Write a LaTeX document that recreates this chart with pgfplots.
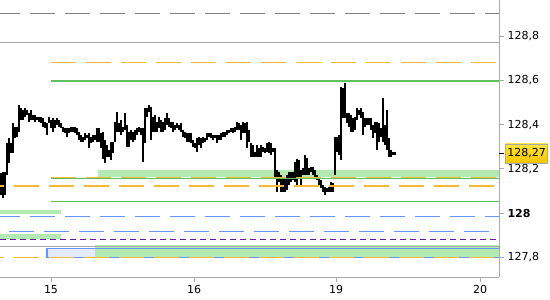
\documentclass[border=0pt]{standalone}
\usepackage{pgfplots}
\pgfplotsset{compat=1.18}
\usepackage{pgfplotstable}
\usepackage{fontspec}
\setmainfont{DejaVu Sans}
\definecolor{axgray}{RGB}{170,170,170}
\definecolor{dgray}{RGB}{128,128,128}
\definecolor{lgreen}{RGB}{178,234,178}
\definecolor{mgreen}{RGB}{92,192,92}
\definecolor{orng}{RGB}{245,185,55}
\definecolor{blu}{RGB}{100,150,255}
\definecolor{purp}{RGB}{110,20,170}
\definecolor{lav}{RGB}{228,234,252}
\definecolor{goldtop}{RGB}{255,228,60}
\definecolor{goldbot}{RGB}{245,196,0}
\pgfplotstableread{
x h l
0 128.180 128.081
1 128.187 128.069
2 128.187 128.081
3 128.315 128.172
4 128.338 128.225
5 128.315 128.270
6 128.406 128.270
7 128.391 128.338
8 128.391 128.345
9 128.489 128.368
10 128.474 128.421
11 128.466 128.421
12 128.474 128.436
13 128.466 128.444
14 128.451 128.413
15 128.466 128.421
16 128.444 128.421
17 128.444 128.413
18 128.436 128.421
19 128.436 128.413
20 128.436 128.406
21 128.428 128.391
22 128.413 128.383
23 128.406 128.353
24 128.436 128.406
25 128.421 128.383
26 128.428 128.368
27 128.421 128.383
28 128.428 128.398
29 128.421 128.391
30 128.406 128.383
31 128.391 128.368
32 128.383 128.361
33 128.383 128.345
34 128.383 128.361
35 128.391 128.368
36 128.391 128.368
37 128.391 128.361
38 128.383 128.353
39 128.368 128.330
40 128.353 128.323
41 128.345 128.323
42 128.361 128.330
43 128.353 128.338
44 128.361 128.293
45 128.345 128.315
46 128.353 128.323
47 128.353 128.330
48 128.383 128.323
49 128.383 128.323
50 128.361 128.293
51 128.368 128.247
52 128.330 128.225
53 128.308 128.255
54 128.285 128.255
55 128.323 128.240
56 128.323 128.270
57 128.413 128.323
58 128.459 128.368
59 128.406 128.368
60 128.421 128.353
61 128.391 128.368
62 128.451 128.376
63 128.398 128.300
64 128.368 128.300
65 128.376 128.330
66 128.368 128.323
67 128.376 128.330
68 128.383 128.353
69 128.391 128.368
70 128.383 128.353
71 128.383 128.232
72 128.474 128.315
73 128.474 128.436
74 128.489 128.459
75 128.481 128.330
76 128.436 128.368
77 128.444 128.368
78 128.413 128.368
79 128.436 128.383
80 128.421 128.368
81 128.413 128.368
82 128.428 128.376
83 128.451 128.398
84 128.428 128.391
85 128.413 128.383
86 128.413 128.368
87 128.398 128.376
88 128.406 128.383
89 128.398 128.376
90 128.406 128.368
91 128.376 128.345
92 128.368 128.338
93 128.361 128.323
94 128.361 128.323
95 128.361 128.315
96 128.330 128.300
97 128.315 128.293
98 128.338 128.278
99 128.345 128.308
100 128.338 128.293
101 128.345 128.315
102 128.338 128.323
103 128.361 128.330
104 128.361 128.345
105 128.361 128.338
106 128.353 128.330
107 128.353 128.338
108 128.353 128.315
109 128.353 128.330
110 128.361 128.330
111 128.368 128.345
112 128.368 128.345
113 128.376 128.353
114 128.376 128.361
115 128.383 128.368
116 128.383 128.361
117 128.391 128.368
118 128.413 128.376
119 128.406 128.376
120 128.398 128.330
121 128.413 128.361
122 128.406 128.361
123 128.413 128.293
124 128.376 128.323
125 128.315 128.255
126 128.308 128.255
127 128.278 128.255
128 128.308 128.255
129 128.293 128.255
130 128.308 128.255
131 128.300 128.278
132 128.293 128.270
133 128.315 128.278
134 128.323 128.270
135 128.315 128.263
136 128.293 128.278
137 128.293 128.165
138 128.195 128.097
139 128.187 128.142
140 128.172 128.097
141 128.157 128.097
142 128.157 128.097
143 128.172 128.104
144 128.187 128.127
145 128.187 128.142
146 128.187 128.149
147 128.232 128.142
148 128.247 128.119
149 128.240 128.157
150 128.195 128.127
151 128.203 128.173
152 128.263 128.173
153 128.248 128.173
154 128.203 128.173
155 128.210 128.188
156 128.210 128.173
157 128.195 128.165
158 128.173 128.150
159 128.165 128.127
160 128.150 128.112
161 128.127 128.097
162 128.120 128.082
163 128.112 128.097
164 128.120 128.097
165 128.142 128.097
166 128.135 128.097
167 128.346 128.173
168 128.346 128.278
169 128.353 128.263
170 128.572 128.240
171 128.565 128.429
172 128.587 128.429
173 128.451 128.406
174 128.451 128.391
175 128.444 128.369
176 128.429 128.369
177 128.436 128.376
178 128.474 128.421
179 128.467 128.444
180 128.474 128.429
181 128.459 128.353
182 128.429 128.391
183 128.429 128.399
184 128.429 128.399
185 128.429 128.376
186 128.399 128.338
187 128.414 128.361
188 128.414 128.286
189 128.406 128.323
190 128.384 128.346
191 128.519 128.323
192 128.399 128.308
193 128.467 128.286
194 128.338 128.255
195 128.286 128.255
196 128.278 128.263
197 128.278 128.263
}\bars
\begin{document}
\begin{tikzpicture}
\useasboundingbox (0,-23bp) rectangle (550bp,277bp);
\begin{axis}[
  at={(0,0)}, anchor=south west,
  scale only axis, width=499bp, height=277bp,
  xmin=-0.5, xmax=249, ymin=127.712, ymax=128.963,
  axis x line*=bottom, axis y line*=right,
  axis line style={draw=axgray, line width=1bp},
  xtick={25,96.5,167.5,239.5},
  xticklabels={15,16,19,20},
  ytick={127.8,128,128.2,128.4,128.6,128.8},
  yticklabels={{127,8},{\textbf{128}},{128,2},{128,4},{128,6},{128,8}},
  extra y ticks={128.27}, extra y tick labels={},
  extra y tick style={tick style={black, line width=1bp}},
  tick align=outside, major tick length=5bp,
  tick style={axgray, line width=1bp},
  ticklabel style={font=\fontsize{11bp}{13bp}\selectfont, text=black},
  yticklabel style={anchor=west, xshift=0bp},
]
% fills
\addplot[draw=none, fill=lgreen] coordinates {(48.5,128.195) (249,128.195) (249,128.165) (48.5,128.165)} --cycle;
\addplot[draw=none, fill=lgreen] coordinates {(-0.5,128.014) (30,128.014) (30,127.995) (-0.5,127.995)} --cycle;
\addplot[draw=none, fill=lgreen] coordinates {(-0.5,127.905) (30,127.905) (30,127.884) (-0.5,127.884)} --cycle;
\addplot[draw=none, fill=lav] coordinates {(23,127.841) (47,127.841) (47,127.800) (23,127.800)} --cycle;
\addplot[draw=none, fill=lgreen] coordinates {(47,127.855) (249,127.855) (249,127.800) (47,127.800)} --cycle;
% bars
\addplot[draw=none, mark=none,
  error bars/.cd, y dir=minus, y explicit, error mark=none,
  error bar style={draw=black, line width=2.2bp, solid}]
  table[x=x, y=h, y error expr=\thisrow{h}-\thisrow{l}] {\bars};
% level lines
\addplot[dgray, line width=1.1bp, dash pattern=on 25bp off 10bp, dash phase=5bp] coordinates {(-0.5,128.900) (249,128.900)};
\addplot[axgray, line width=1.1bp] coordinates {(-0.5,128.772) (249,128.772)};
\addplot[orng, line width=1.1bp, dash pattern=on 25bp off 10bp] coordinates {(25,128.679) (249,128.679)};
\addplot[mgreen, line width=1.1bp] coordinates {(25,128.597) (249,128.597)};
\addplot[orng, line width=1.1bp, dash pattern=on 25bp off 10bp] coordinates {(25,128.162) (249,128.162)};
\addplot[mgreen, line width=1.1bp] coordinates {(25,128.157) (249,128.157)};
\addplot[orng, line width=1.1bp, dash pattern=on 25bp off 10bp, dash phase=21bp] coordinates {(-0.5,128.123) (249,128.123)};
\addplot[mgreen, line width=1.1bp] coordinates {(25,128.054) (249,128.054)};
\addplot[blu, line width=1.1bp, dash pattern=on 25bp off 10bp, dash phase=5bp] coordinates {(-0.5,127.985) (249,127.985)};
\addplot[blu, line width=1.1bp, dash pattern=on 25bp off 10bp, dash phase=26bp] coordinates {(-0.5,127.919) (249,127.919)};
\addplot[purp, line width=1.1bp, dash pattern=on 6bp off 4bp] coordinates {(-0.5,127.881) (249,127.881)};
\addplot[axgray, line width=1.1bp] coordinates {(-0.5,127.850) (249,127.850)};
\addplot[blu, line width=1.1bp] coordinates {(249.5,127.841) (23,127.841) (23,127.800) (249.5,127.800)};
\addplot[orng, line width=1.1bp, dash pattern=on 25bp off 10bp, dash phase=21bp] coordinates {(-0.5,127.800) (249,127.800)};
\coordinate (lab) at (axis cs:249,128.27);
\end{axis}
\node[anchor=west, xshift=6bp, draw=axgray, line width=0.8bp, top color=goldtop, bottom color=goldbot,
  minimum height=19bp, inner xsep=2bp, inner ysep=0bp,
  font=\fontsize{11bp}{13bp}\selectfont] at (lab) {128,27};
\end{tikzpicture}
\end{document}
